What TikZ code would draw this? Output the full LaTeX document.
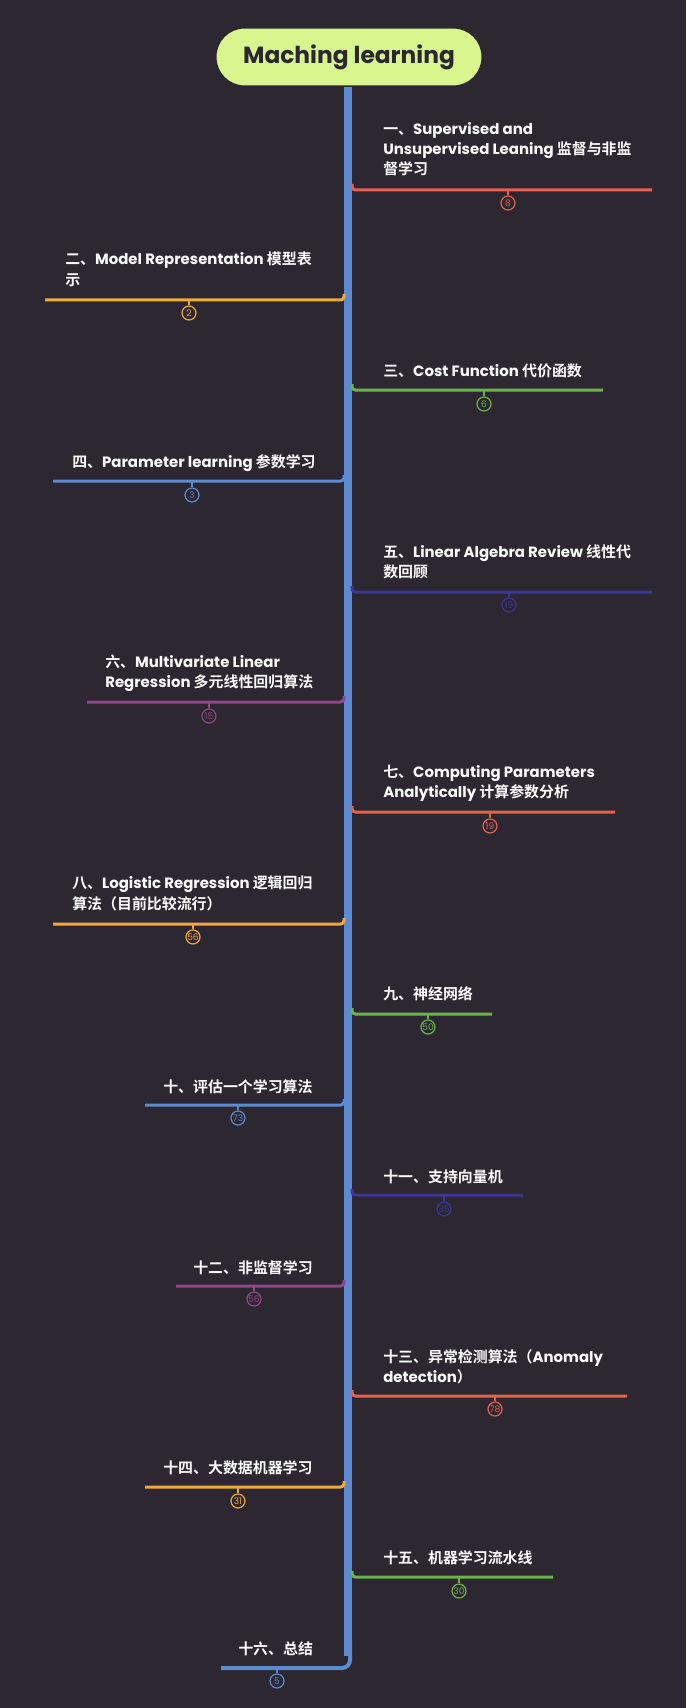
\documentclass[tikz,border=0pt]{standalone}
\usepackage{fontspec}
\setmainfont{Poppins}
\newfontfamily\cjk{Noto Sans CJK SC}[BoldFont={Noto Sans CJK SC Bold}]
\newcommand\zh[1]{{\cjk #1}}
\definecolor{bg}{HTML}{2C2731}
\definecolor{cred}{HTML}{E5624C}
\definecolor{corange}{HTML}{F2A93B}
\definecolor{cgreen}{HTML}{6BB34A}
\definecolor{cblue}{HTML}{5B8BD0}
\definecolor{cindigo}{HTML}{3C3699}
\definecolor{cpurple}{HTML}{8C4A8B}
\definecolor{rootfill}{HTML}{D8F58E}
\definecolor{rootink}{HTML}{2B2631}
\tikzset{
  lbl/.style={anchor=base west, inner sep=0pt, text=white, font=\fontsize{11.2pt}{15pt}\selectfont\bfseries},
  branchline/.style={line width=2.25pt, rounded corners=2.5pt},
  stem/.style={line width=1.1pt},
  badge/.style={circle, draw, line width=0.9pt, fill=bg, inner sep=0pt, minimum size=10.5pt, font=\fontsize{6.8pt}{7pt}\selectfont},
}
\begin{document}
\begin{tikzpicture}[x=0.75pt,y=-0.75pt]
\useasboundingbox[fill=bg] (0,0) rectangle (686,1708);
% root
\node[draw=rootink, line width=0.8pt, fill=rootfill, rounded corners=21.5pt, minimum width=199.5pt, minimum height=43.5pt, inner sep=0pt, text=rootink, font=\fontsize{17.5pt}{20pt}\selectfont\bfseries] (root) at (349,57) {Maching learning};
% trunk
\coordinate (tb) at (348,1656);
\draw[cblue, line width=6pt] (root.south) ++(-0.75pt,0) -- (tb);
% branch 16 (bottom)
\coordinate (b16s) at (350,1640);
\coordinate (b16e) at (221,1668);
\draw[cblue, line width=3pt, rounded corners=6pt] (b16s) |- (b16e);

% 1
\coordinate (s1) at (352,184); \coordinate (e1) at (652,190); \coordinate (m1) at (508,190);
\draw[cred, branchline] (s1) |- (e1);
\node[badge, draw=cred, text=cred] (n1) at (508,203) {8};
\draw[cred, stem] (m1) -- (n1.north);
\node[lbl] (t1a) at (383,135) {\zh{一、}Supervised and};
\node[lbl] (t1b) at (383,155) {Unsupervised Leaning \zh{监督与非监}};
\node[lbl] (t1c) at (383,175) {\zh{督学习}};

% 2 (left)
\coordinate (s2) at (344,294); \coordinate (e2) at (45,300); \coordinate (m2) at (189,300);
\draw[corange, branchline] (s2) |- (e2);
\node[badge, draw=corange, text=corange] (n2) at (189,313) {2};
\draw[corange, stem] (m2) -- (n2.north);
\node[lbl] (t2a) at (65,265) {\zh{二、}Model Representation \zh{模型表}};
\node[lbl] (t2b) at (65,286) {\zh{示}};

% 3
\coordinate (s3) at (352,384); \coordinate (e3) at (603,390); \coordinate (m3) at (484,390);
\draw[cgreen, branchline] (s3) |- (e3);
\node[badge, draw=cgreen, text=cgreen] (n3) at (484,404) {6};
\draw[cgreen, stem] (m3) -- (n3.north);
\node[lbl] (t3a) at (383,376) {\zh{三、}Cost Function \zh{代价函数}};

% 4 (left)
\coordinate (s4) at (344,475); \coordinate (e4) at (53,481); \coordinate (m4) at (192,481);
\draw[cblue, branchline] (s4) |- (e4);
\node[badge, draw=cblue, text=cblue] (n4) at (192,495) {3};
\draw[cblue, stem] (m4) -- (n4.north);
\node[lbl] (t4a) at (72,467) {\zh{四、}Parameter learning \zh{参数学习}};

% 5
\coordinate (s5) at (352,586); \coordinate (e5) at (652,592); \coordinate (m5) at (509,592);
\draw[cindigo, branchline] (s5) |- (e5);
\node[badge, draw=cindigo, text=cindigo] (n5) at (509,605) {19};
\draw[cindigo, stem] (m5) -- (n5.north);
\node[lbl] (t5a) at (383,557) {\zh{五、}Linear Algebra Review \zh{线性代}};
\node[lbl] (t5b) at (383,577) {\zh{数回顾}};

% 6 (left)
\coordinate (s6) at (344,696); \coordinate (e6) at (87,702); \coordinate (m6) at (209,702);
\draw[cpurple, branchline] (s6) |- (e6);
\node[badge, draw=cpurple, text=cpurple] (n6) at (209,716) {15};
\draw[cpurple, stem] (m6) -- (n6.north);
\node[lbl] (t6a) at (105,667) {\zh{六、}Multivariate Linear};
\node[lbl] (t6b) at (105,687) {Regression \zh{多元线性回归算法}};

% 7
\coordinate (s7) at (352,806); \coordinate (e7) at (615,812); \coordinate (m7) at (490,812);
\draw[cred, branchline] (s7) |- (e7);
\node[badge, draw=cred, text=cred] (n7) at (490,826) {19};
\draw[cred, stem] (m7) -- (n7.north);
\node[lbl] (t7a) at (383,777) {\zh{七、}Computing Parameters};
\node[lbl] (t7b) at (383,797) {Analytically \zh{计算参数分析}};

% 8 (left)
\coordinate (s8) at (344,918); \coordinate (e8) at (53,924); \coordinate (m8) at (193,924);
\draw[corange, branchline] (s8) |- (e8);
\node[badge, draw=corange, text=corange] (n8) at (193,937) {56};
\draw[corange, stem] (m8) -- (n8.north);
\node[lbl] (t8a) at (72,888) {\zh{八、}Logistic Regression \zh{逻辑回归}};
\node[lbl] (t8b) at (72,909) {\zh{算法（目前比较流行）}};

% 9
\coordinate (s9) at (352,1008); \coordinate (e9) at (492,1014); \coordinate (m9) at (428,1014);
\draw[cgreen, branchline] (s9) |- (e9);
\node[badge, draw=cgreen, text=cgreen] (n9) at (428,1027) {50};
\draw[cgreen, stem] (m9) -- (n9.north);
\node[lbl] (t9a) at (383,999) {\zh{九、神经网络}};

% 10 (left)
\coordinate (s10) at (344,1099); \coordinate (e10) at (145,1105); \coordinate (m10) at (238,1105);
\draw[cblue, branchline] (s10) |- (e10);
\node[badge, draw=cblue, text=cblue] (n10) at (238,1118) {73};
\draw[cblue, stem] (m10) -- (n10.north);
\node[lbl] (t10a) at (163,1092) {\zh{十、评估一个学习算法}};

% 11
\coordinate (s11) at (352,1189); \coordinate (e11) at (523,1195); \coordinate (m11) at (444,1195);
\draw[cindigo, branchline] (s11) |- (e11);
\node[badge, draw=cindigo, text=cindigo] (n11) at (444,1209) {35};
\draw[cindigo, stem] (m11) -- (n11.north);
\node[lbl] (t11a) at (383,1182) {\zh{十一、支持向量机}};

% 12 (left)
\coordinate (s12) at (344,1280); \coordinate (e12) at (176,1286); \coordinate (m12) at (254,1286);
\draw[cpurple, branchline] (s12) |- (e12);
\node[badge, draw=cpurple, text=cpurple] (n12) at (254,1299) {56};
\draw[cpurple, stem] (m12) -- (n12.north);
\node[lbl] (t12a) at (193,1273) {\zh{十二、非监督学习}};

% 13
\coordinate (s13) at (352,1390); \coordinate (e13) at (627,1396); \coordinate (m13) at (495,1396);
\draw[cred, branchline] (s13) |- (e13);
\node[badge, draw=cred, text=cred] (n13) at (495,1409) {78};
\draw[cred, stem] (m13) -- (n13.north);
\node[lbl] (t13a) at (383,1362) {\zh{十三、异常检测算法（}Anomaly};
\node[lbl] (t13b) at (383,1382) {detection\zh{）}};

% 14 (left)
\coordinate (s14) at (344,1481); \coordinate (e14) at (145,1487); \coordinate (m14) at (238,1487);
\draw[corange, branchline] (s14) |- (e14);
\node[badge, draw=corange, text=corange] (n14) at (238,1501) {31};
\draw[corange, stem] (m14) -- (n14.north);
\node[lbl] (t14a) at (163,1473) {\zh{十四、大数据机器学习}};

% 15
\coordinate (s15) at (352,1571); \coordinate (e15) at (553,1577); \coordinate (m15) at (459,1577);
\draw[cgreen, branchline] (s15) |- (e15);
\node[badge, draw=cgreen, text=cgreen] (n15) at (459,1591) {30};
\draw[cgreen, stem] (m15) -- (n15.north);
\node[lbl] (t15a) at (383,1563) {\zh{十五、机器学习流水线}};

% 16
\coordinate (m16) at (277,1668);
\node[badge, draw=cblue, text=cblue] (n16) at (277,1681) {5};
\draw[cblue, stem] (m16) -- (n16.north);
\node[lbl] (t16a) at (238,1654) {\zh{十六、总结}};
\end{tikzpicture}
\end{document}
